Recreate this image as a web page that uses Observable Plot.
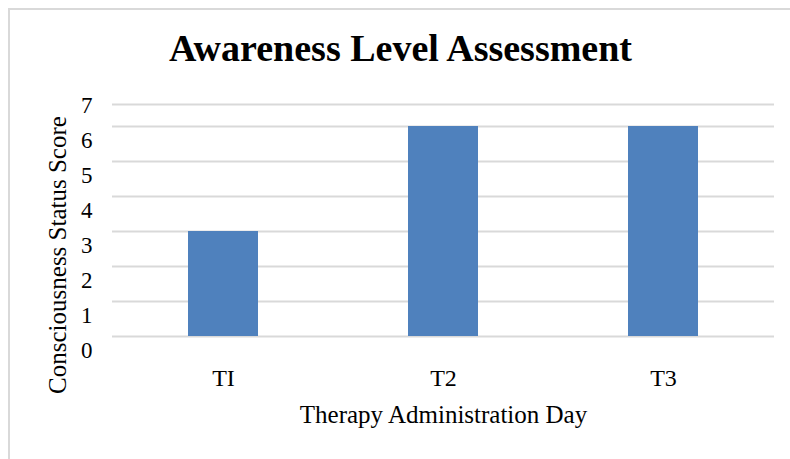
<!DOCTYPE html>
<html><head><meta charset="utf-8">
<script src="https://cdn.jsdelivr.net/npm/d3@7"></script>
<script src="https://cdn.jsdelivr.net/npm/@observablehq/plot@0.6"></script>
<style>
html,body{margin:0;padding:0;background:#fff;}
#wrap{position:relative;width:790px;height:459px;overflow:hidden;}
#border{position:absolute;left:8px;top:8px;width:900px;height:600px;border-left:2px solid #d9d9d9;border-top:2px solid #d9d9d9;}
#wrap svg{position:absolute;left:0;top:0;}
</style></head><body><div id="wrap"><div id="border"></div></div>
<script>
const categories = ["TI", "T2", "T3"];
const scores = [3, 6, 6];
const yTicks = [0, 1, 2, 3, 4, 5, 6, 7];
const gridValues = [0, 1, 2, 3, 4, 5, 6];
const plotTop = [6.63];
const title = "Awareness Level Assessment";
const xTitle = "Therapy Administration Day";
const yTitle = "Consciousness Status Score";

const data = categories.map((c, i) => ({day: c, score: scores[i]}));
const serif = "'Liberation Serif', 'Times New Roman', Times, serif";

const chart = Plot.plot({
  width: 790, height: 459,
  marginLeft: 112, marginRight: 16, marginTop: 91, marginBottom: 123,
  style: {fontFamily: serif, background: "transparent", color: "#000"},
  x: {domain: categories, paddingInner: 0.683, paddingOuter: 0.3415, label: null},
  y: {domain: [0, 7], label: null},
  marks: [
    Plot.ruleY(gridValues.concat(plotTop), {stroke: "#d9d9d9", strokeWidth: 2}),
    Plot.barY(data, {x: "day", y: "score", fill: "#4f81bd"}),
    Plot.axisY(yTicks, {tickSize: 0, tickPadding: 20, dy: 14, fontSize: 23, label: null}),
    Plot.axisX({tickSize: 0, tickPadding: 32, fontSize: 24, label: null}),
    Plot.text([title], {frameAnchor: "top", dx: -43, dy: -43, fontSize: 38, fontWeight: "bold", lineAnchor: "middle"}),
    Plot.text([xTitle], {frameAnchor: "bottom", dy: 78, fontSize: 25, lineAnchor: "middle"}),
    Plot.text([yTitle], {frameAnchor: "left", textAnchor: "middle", dx: -55, dy: 41, rotate: -90, fontSize: 25, lineAnchor: "middle"})
  ]
});
document.getElementById("wrap").appendChild(chart);
</script>
</body></html>
